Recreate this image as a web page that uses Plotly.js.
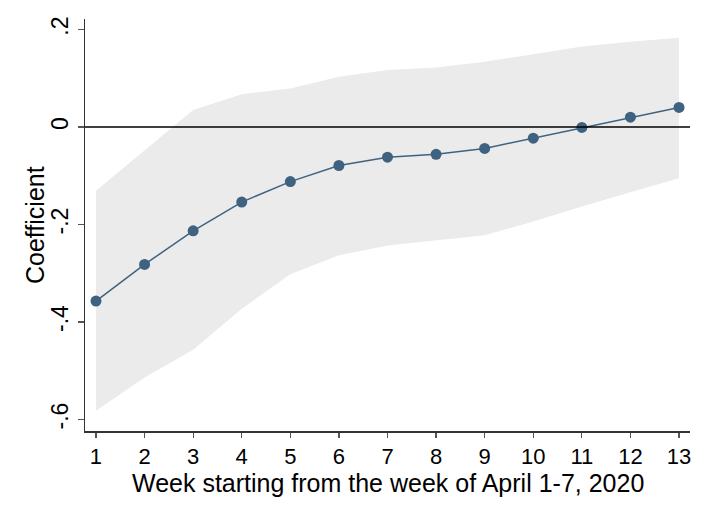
<!DOCTYPE html>
<html>
<head>
<meta charset="utf-8">
<script src="https://cdn.plot.ly/plotly-3.0.1.min.js"></script>
<style>
  html, body { margin: 0; padding: 0; background: #fff; }
  #GRAPH { width: 709px; height: 516px; }
</style>
</head>
<body>
<div id="GRAPH"></div>
<script>
// week index and estimated coefficients with confidence band
var weeks = [1, 2, 3, 4, 5, 6, 7, 8, 9, 10, 11, 12, 13];
var coef = [-0.357, -0.282, -0.213, -0.154, -0.112, -0.079, -0.062, -0.056, -0.044, -0.023, -0.001, 0.020, 0.040];
var ciUpper = [-0.131, -0.047, 0.035, 0.067, 0.079, 0.103, 0.117, 0.122, 0.134, 0.149, 0.165, 0.175, 0.183];
var ciLower = [-0.582, -0.514, -0.457, -0.373, -0.302, -0.263, -0.243, -0.232, -0.222, -0.194, -0.163, -0.134, -0.105];

var yTickVals = [-0.6, -0.4, -0.2, 0, 0.2];
var yTickText = ['-.6', '-.4', '-.2', '0', '.2'];

var xTitle = 'Week starting from the week of April 1-7, 2020';
var yTitle = 'Coefficient';

var FONT = 'Liberation Sans, Arial, sans-serif';
var LINE_COLOR = 'rgb(62, 98, 128)';

var traces = [
  {
    x: weeks,
    y: ciLower,
    mode: 'lines',
    line: { width: 0, color: 'rgba(0,0,0,0)' },
    hoverinfo: 'skip',
    showlegend: false
  },
  {
    x: weeks,
    y: ciUpper,
    mode: 'lines',
    fill: 'tonexty',
    fillcolor: 'rgb(235, 235, 235)',
    line: { width: 0, color: 'rgba(0,0,0,0)' },
    hoverinfo: 'skip',
    showlegend: false
  },
  {
    x: weeks,
    y: coef,
    mode: 'lines+markers',
    line: { color: LINE_COLOR, width: 1.5 },
    marker: { color: LINE_COLOR, size: 11 },
    showlegend: false
  }
];

var layout = {
  width: 709,
  height: 516,
  paper_bgcolor: '#fff',
  plot_bgcolor: '#fff',
  font: { family: FONT, color: '#000' },
  margin: { l: 85, r: 19, t: 19, b: 85, pad: 0 },
  showlegend: false,
  xaxis: {
    range: [0.774, 13.226],
    tickvals: weeks,
    ticks: 'outside',
    ticklen: 5,
    tickwidth: 1.2,
    tickcolor: '#555',
    tickfont: { size: 22, family: FONT },
    showgrid: false,
    zeroline: false,
    showline: true,
    linecolor: '#333',
    linewidth: 1.5
  },
  yaxis: {
    range: [-0.6236, 0.2215],
    tickvals: yTickVals,
    ticktext: yTickText,
    tickangle: -90,
    ticks: 'outside',
    ticklen: 6,
    tickwidth: 1.2,
    tickcolor: '#555',
    tickfont: { size: 23, family: FONT },
    showgrid: false,
    zeroline: false,
    showline: true,
    linecolor: '#333',
    linewidth: 1.5
  },
  shapes: [
    // reference line at zero, drawn over the band
    { type: 'line', xref: 'paper', x0: 0, x1: 1, yref: 'y', y0: 0, y1: 0,
      line: { color: '#000', width: 1.3 }, layer: 'above' }
  ],
  annotations: [
    { text: xTitle, xref: 'paper', yref: 'paper', x: 0.5, y: -0.127,
      xanchor: 'center', yanchor: 'middle', showarrow: false,
      font: { size: 25, family: FONT } },
    { text: yTitle, xref: 'paper', yref: 'paper', x: -0.0826, y: 0.5,
      xanchor: 'center', yanchor: 'middle', showarrow: false, textangle: -90,
      font: { size: 25, family: FONT } }
  ]
};

Plotly.newPlot('GRAPH', traces, layout, { displayModeBar: false, staticPlot: true });
</script>
</body>
</html>
